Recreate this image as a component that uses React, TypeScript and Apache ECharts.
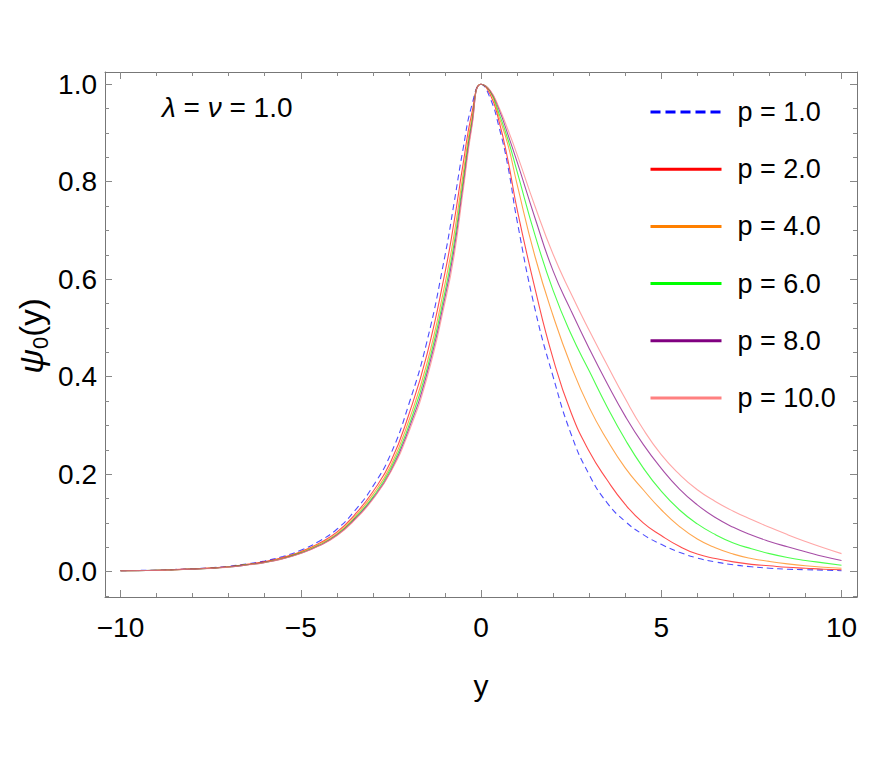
import React, { useEffect, useRef } from "react";
import * as echarts from "echarts";

// x positions (y-coordinate of the plot) at which the curves were read
const xs = [-10, -9.5, -9, -8.5, -8, -7.5, -7, -6.5, -6, -5.5, -5, -4.5, -4, -3.5, -3, -2.5, -2, -1.5, -1, -0.75, -0.5, -0.25, 0,
  0.25, 0.5, 0.75, 1, 1.5, 2, 2.5, 3, 3.5, 4, 4.5, 5, 5.5, 6, 6.5, 7, 7.5, 8, 8.5, 9, 9.5, 10];

const p1 = [0.002, 0.0025, 0.003, 0.0045, 0.006, 0.008, 0.011, 0.016, 0.022, 0.031, 0.044, 0.062, 0.087, 0.125, 0.175, 0.242, 0.344, 0.472, 0.648, 0.755, 0.866, 0.958, 1,
  0.972, 0.912, 0.83, 0.72, 0.538, 0.40, 0.282, 0.199, 0.141, 0.103, 0.076, 0.056, 0.040, 0.028, 0.020, 0.014, 0.010, 0.007, 0.005, 0.004, 0.003, 0.002];
const p2 = [0.002, 0.0023, 0.003, 0.0042, 0.0056, 0.0075, 0.010, 0.015, 0.0205, 0.029, 0.041, 0.058, 0.081, 0.117, 0.164, 0.226, 0.323, 0.445, 0.613, 0.716, 0.835, 0.942, 1,
  0.98, 0.924, 0.843, 0.744, 0.58, 0.437, 0.326, 0.247, 0.188, 0.138, 0.100, 0.074, 0.052, 0.036, 0.027, 0.020, 0.015, 0.012, 0.009, 0.007, 0.005, 0.004];
const p4 = [0.0018, 0.0023, 0.0027, 0.004, 0.0054, 0.0072, 0.0099, 0.0144, 0.0198, 0.028, 0.040, 0.056, 0.078, 0.113, 0.158, 0.218, 0.310, 0.427, 0.590, 0.690, 0.814, 0.931, 1,
  0.985, 0.933, 0.875, 0.795, 0.646, 0.525, 0.422, 0.337, 0.270, 0.213, 0.168, 0.127, 0.093, 0.067, 0.049, 0.036, 0.027, 0.021, 0.016, 0.012, 0.009, 0.007];
const p6 = [0.0018, 0.0022, 0.0026, 0.0039, 0.0052, 0.007, 0.0096, 0.014, 0.019, 0.027, 0.0385, 0.054, 0.076, 0.110, 0.153, 0.212, 0.300, 0.415, 0.574, 0.672, 0.800, 0.924, 1,
  0.986, 0.94, 0.886, 0.821, 0.690, 0.577, 0.487, 0.412, 0.338, 0.271, 0.213, 0.165, 0.127, 0.098, 0.076, 0.059, 0.047, 0.037, 0.029, 0.023, 0.018, 0.013];
const p8 = [0.0017, 0.0021, 0.0026, 0.0039, 0.0051, 0.0069, 0.0094, 0.0137, 0.019, 0.0266, 0.0377, 0.053, 0.0746, 0.108, 0.150, 0.207, 0.293, 0.406, 0.562, 0.659, 0.789, 0.918, 1,
  0.987, 0.948, 0.896, 0.841, 0.725, 0.617, 0.535, 0.458, 0.386, 0.319, 0.261, 0.212, 0.170, 0.137, 0.111, 0.091, 0.075, 0.062, 0.051, 0.041, 0.031, 0.023];
const p10 = [0.0017, 0.0021, 0.0025, 0.0038, 0.0051, 0.0068, 0.0093, 0.0135, 0.0186, 0.0262, 0.0372, 0.0525, 0.0736, 0.106, 0.148, 0.205, 0.287, 0.397, 0.552, 0.646, 0.779, 0.913, 1,
  0.988, 0.952, 0.906, 0.856, 0.749, 0.651, 0.57, 0.495, 0.424, 0.355, 0.292, 0.240, 0.200, 0.168, 0.144, 0.124, 0.107, 0.091, 0.076, 0.062, 0.049, 0.037];

const seriesNames = ["p = 1.0", "p = 2.0", "p = 4.0", "p = 6.0", "p = 8.0", "p = 10.0"];
const seriesValues = [p1, p2, p4, p6, p8, p10];
const seriesColors = ["#0000ff", "#ff0000", "#ff8000", "#00ff00", "#800080", "#ff8080"];

const xMajor = [-10, -5, 0, 5, 10];
const xMinor = [-10, -9, -8, -7, -6, -5, -4, -3, -2, -1, 0, 1, 2, 3, 4, 5, 6, 7, 8, 9, 10];
const yMajor = [0, 0.2, 0.4, 0.6, 0.8, 1.0];
const yMinor = [-0.05, 0, 0.05, 0.1, 0.15, 0.2, 0.25, 0.3, 0.35, 0.4, 0.45, 0.5, 0.55, 0.6, 0.65, 0.7, 0.75, 0.8, 0.85, 0.9, 0.95, 1.0];

const X_MIN = -10.43;
const X_MAX = 10.43;
const Y_MIN = -0.052;
const Y_MAX = 1.025;

const FONT = "'Liberation Sans', Arial, sans-serif";
const FRAME = "#777777";
const TICK = "#888888";

function makeX(position: string, major: boolean, withLabel: boolean, extra: any = {}) {
  return {
    type: "value",
    position,
    min: X_MIN,
    max: X_MAX,
    axisLine: { show: major, onZero: false, lineStyle: { color: FRAME, width: 1 } },
    axisTick: {
      show: true,
      inside: true,
      length: major ? 7 : 4,
      customValues: major ? xMajor : xMinor,
      lineStyle: { color: TICK, width: 1 },
    },
    axisLabel: withLabel
      ? {
          show: true,
          customValues: xMajor,
          fontSize: 28,
          fontFamily: FONT,
          color: "#000",
          margin: 16,
          formatter: (v: number) => (v < 0 ? "\u2212" + Math.abs(v) : String(v)),
        }
      : { show: false },
    splitLine: { show: false },
    ...extra,
  };
}

function makeY(position: string, major: boolean, withLabel: boolean, extra: any = {}) {
  return {
    type: "value",
    position,
    min: Y_MIN,
    max: Y_MAX,
    axisLine: { show: major, onZero: false, lineStyle: { color: FRAME, width: 1 } },
    axisTick: {
      show: true,
      inside: true,
      length: major ? 7 : 4,
      customValues: major ? yMajor : yMinor,
      lineStyle: { color: TICK, width: 1 },
    },
    axisLabel: withLabel
      ? {
          show: true,
          customValues: yMajor,
          fontSize: 28,
          fontFamily: FONT,
          color: "#000",
          margin: 8,
          formatter: (v: number) => v.toFixed(1),
        }
      : { show: false },
    splitLine: { show: false },
    ...extra,
  };
}

export default function App() {
  const ref = useRef<HTMLDivElement>(null);

  useEffect(() => {
    if (!ref.current) return;
    const chart = echarts.init(ref.current, null, { renderer: "svg" });

    const series = seriesNames.map((name, i) => ({
      name,
      type: "line",
      xAxisIndex: 0,
      yAxisIndex: 0,
      data: xs.map((x, j) => [x, seriesValues[i][j]]),
      smooth: 0.5,
      symbol: "none",
      showSymbol: false,
      lineStyle: {
        color: seriesColors[i],
        width: 1.1,
        opacity: 0.7,
        type: i === 0 ? [6, 4] : "solid",
      },
      itemStyle: { color: seriesColors[i] },
      emphasis: { disabled: true },
    }));

    chart.setOption({
      animation: false,
      grid: { left: 105, right: 15, top: 72, bottom: 166, containLabel: false },
      legend: {
        orient: "vertical",
        left: 644,
        top: 92,
        itemWidth: 71,
        itemHeight: 30,
        itemGap: 27.2,
        selectedMode: false,
        itemStyle: { opacity: 0 },
        lineStyle: { width: 3, opacity: 1 },
        textStyle: {
          fontSize: 27,
          fontFamily: FONT,
          color: "#000",
          lineHeight: 30,
          padding: [0, 0, 0, 11],
        },
        data: seriesNames.map((n, i) =>
          i === 0
            ? { name: n, itemStyle: { opacity: 0 }, lineStyle: { type: [10, 5], width: 3, opacity: 1 } }
            : { name: n, itemStyle: { opacity: 0 } }
        ),
      },
      xAxis: [
        makeX("bottom", true, true, {
          name: "y",
          nameLocation: "middle",
          nameGap: 73,
          nameTextStyle: { fontSize: 30, fontFamily: FONT, color: "#000" },
        }),
        makeX("bottom", false, false),
        makeX("top", true, false),
        makeX("top", false, false),
      ],
      yAxis: [
        makeY("left", true, true),
        makeY("left", false, false),
        makeY("right", true, false),
        makeY("right", false, false),
      ],
      graphic: [
        {
          type: "text",
          x: 162,
          y: 107,
          style: {
            text: "{g|\u03bb} = {g|\u03bd} = 1.0",
            fontSize: 28,
            fontFamily: FONT,
            fill: "#000",
            verticalAlign: "middle",
            rich: {
              g: { fontSize: 28, fontStyle: "italic", fontFamily: FONT, fill: "#000" },
            },
          },
        },
        {
          type: "text",
          x: 31,
          y: 336,
          rotation: Math.PI / 2,
          style: {
            text: "{i|\u03c8}{s|0}{n|(y)}",
            fontSize: 33,
            fontFamily: FONT,
            fill: "#000",
            align: "center",
            verticalAlign: "middle",
            rich: {
              i: { fontSize: 34, fontStyle: "italic", fontFamily: FONT, fill: "#000", lineHeight: 40 },
              s: { fontSize: 22, fontFamily: FONT, fill: "#000", verticalAlign: "bottom", lineHeight: 26 },
              n: { fontSize: 33, fontFamily: FONT, fill: "#000", lineHeight: 40 },
            },
          },
        },
      ],
      series,
    });

    return () => chart.dispose();
  }, []);

  return (
    <div
      ref={ref}
      style={{ position: "absolute", left: 0, top: 0, width: 872, height: 763, background: "#fff" }}
    />
  );
}
